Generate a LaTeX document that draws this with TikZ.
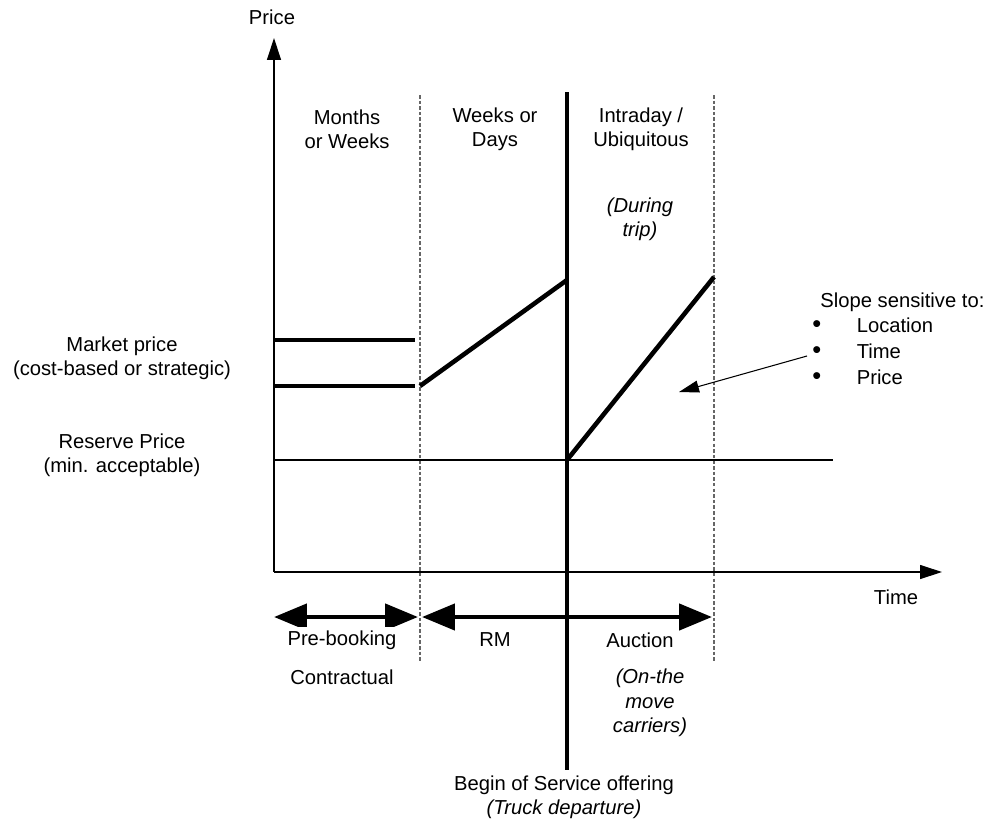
\documentclass[tikz,border=0pt]{standalone}
\usepackage{fontspec}
\setmainfont{Liberation Sans}
\usetikzlibrary{positioning, arrows.meta}

\newcommand{\bigdot}{{\fontsize{14.5}{0}\selectfont\textbullet}}

\begin{document}
\begin{tikzpicture}[x=0.02cm, y=-0.02cm,
    font=\fontsize{11.5}{13.8}\selectfont,
    lbl/.style={fill=white, align=center, inner sep=2pt},
    axis/.style={line width=0.7pt, -{Triangle[length=0.44cm,width=0.28cm]}},
    curve/.style={line width=2.6pt},
    phase/.style={line width=2.6pt, {Triangle[length=0.66cm,width=0.52cm]}-{Triangle[length=0.66cm,width=0.52cm]}},
    border/.style={gray!80!black, line width=0.6pt, dash pattern=on 2pt off 1.2pt}]
    \useasboundingbox (0,0) rectangle (998,822);

    % axes
    \coordinate (origin) at (274,572);
    \coordinate (ytip)   at (274,38);
    \coordinate (xtip)   at (942,572);
    \draw[axis] (origin) -- (ytip);
    \draw[axis] (origin) -- (xtip);
    \node[lbl] (price) at (272,17) {Price};
    \node[lbl] (time)  at (896,597) {Time};

    % phase borders
    \coordinate (b1top) at (420,95);  \coordinate (b1bot) at (420,662);
    \coordinate (b2top) at (714,95);  \coordinate (b2bot) at (714,662);
    \draw[border] (b1top) -- (b1bot);
    \draw[border] (b2top) -- (b2bot);
    \coordinate (dtop) at (567,92);   \coordinate (dbot) at (567,770);
    \draw[line width=2.8pt] (dtop) -- (dbot);

    % reserve price level
    \coordinate (res0) at (274,460);  \coordinate (res1) at (833,460);
    \draw[line width=0.6pt] (res0) -- (res1);

    % price paths
    \coordinate (m1a) at (274,340);   \coordinate (m1b) at (415,340);
    \coordinate (m2a) at (274,386);   \coordinate (m2b) at (415,386);
    \coordinate (rma) at (420,386);   \coordinate (rmb) at (567,280);
    \coordinate (aua) at (567,460);   \coordinate (aub) at (714,277);
    \draw[curve] (m1a) -- (m1b);
    \draw[curve] (m2a) -- (m2b);
    \draw[curve] (rma) -- (rmb);
    \draw[curve] (aua) -- (aub);

    % horizon labels
    \node[lbl] (months)   at (347,129) {Months\\or Weeks};
    \node[lbl] (weeks)    at (495,129) {Weeks or\\Days};
    \node[lbl] (intraday) at (641,129) {Intraday /\\Ubiquitous};
    \node[lbl] (during)   at (640,219) {\itshape (During\\\itshape trip)};

    \node[lbl] (market)  at (122,358) {Market price\\(cost-based or strategic)};
    \node[lbl] (reserve) at (122,455) {Reserve Price\\(min. acceptable)};

    % slope note
    \node[lbl, anchor=north west, inner sep=0pt] (slope) at (812,290) {%
        \begin{tabular}{@{}p{1.2em}@{\hspace{1.0em}}l@{}}
            \multicolumn{2}{@{\hspace{0.4em}}l@{}}{Slope sensitive to:}\\[0.8pt]
            \bigdot & Location\\[0.8pt]
            \bigdot & Time\\[0.8pt]
            \bigdot & Price
        \end{tabular}};
    \coordinate (slopefrom) at (807,356);
    \coordinate (slopeto)   at (679,392);
    \draw[line width=0.6pt, -{Triangle[length=0.4cm,width=0.24cm]}] (slopefrom) -- (slopeto);

    % pricing mechanisms
    \coordinate (p0) at (274,617); \coordinate (p1) at (418,617);
    \coordinate (p2) at (422,617); \coordinate (p3) at (712,617);
    \draw[phase] (p0) -- (p1);
    \draw[phase] (p2) -- (p3);
    \node[lbl] (prebook) at (342,640) {Pre-booking};
    \node[lbl] (contract) at (342,677) {Contractual};
    \node[lbl] (rm)      at (495,640) {RM};
    \node[lbl] (auction) at (640,640) {Auction};
    \node[lbl] (onmove)  at (650,703) {\itshape (On-the\\\itshape move\\\itshape carriers)};

    \node[lbl] (begin) at (564,797) {Begin of Service offering\\\itshape (Truck departure)};
\end{tikzpicture}
\end{document}
